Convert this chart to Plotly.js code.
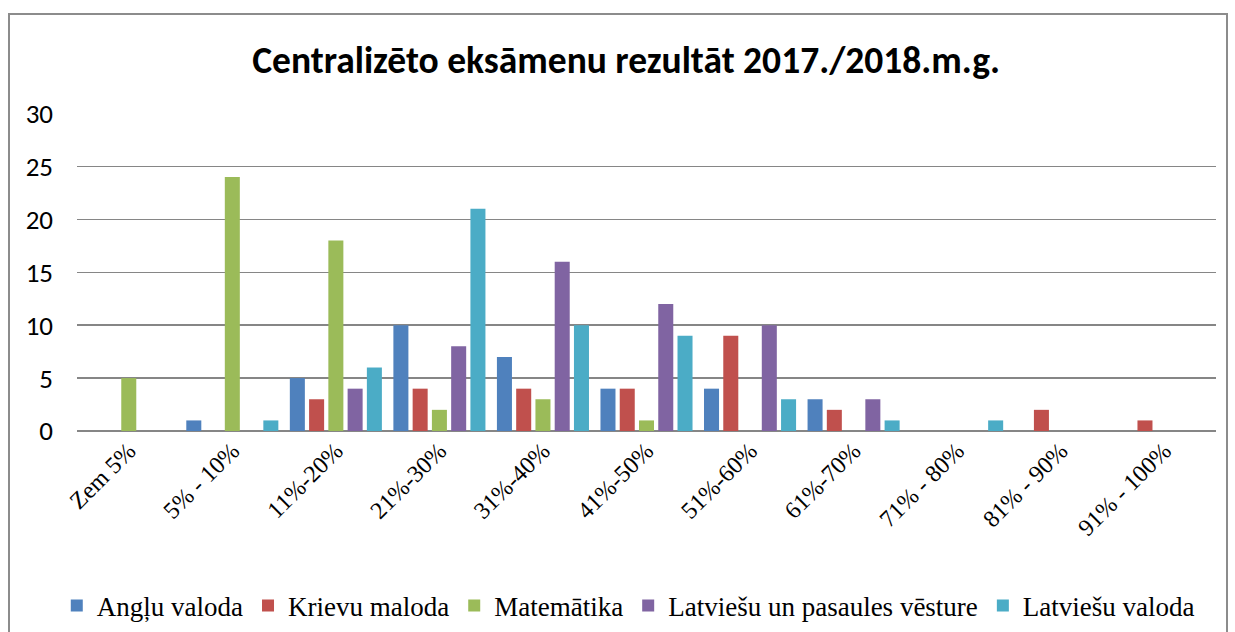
<!DOCTYPE html>
<html><head><meta charset="utf-8">
<script src="https://cdn.plot.ly/plotly-3.0.1.min.js"></script>
<style>
html,body{margin:0;padding:0;background:#fff;}
#frame{position:absolute;left:8px;top:13px;width:1220px;height:640px;border:2px solid #8c8c8c;box-sizing:border-box;pointer-events:none;z-index:10;}
#chart{width:1235px;height:632px;}
</style></head>
<body>
<div id="frame"></div>
<div id="chart"></div>
<script>
const categories = ["Zem 5%","5% - 10%","11%-20%","21%-30%","31%-40%","41%-50%","51%-60%","61%-70%","71% - 80%","81% - 90%","91% - 100%"];
const seriesNames = ["Angļu valoda","Krievu maloda","Matemātika","Latviešu un pasaules vēsture","Latviešu valoda"];
const angluValoda   = [0,1,5,10,7,4,4,3,0,0,0];
const krievuMaloda  = [0,0,3,4,4,4,9,2,0,2,1];
const matematika    = [5,24,18,2,3,1,0,0,0,0,0];
const vesture       = [0,0,4,8,16,12,10,3,0,0,0];
const latviesuValoda= [0,1,6,21,10,9,3,1,1,0,0];
const colors = ["#4F81BD","#C0504D","#9BBB59","#8064A2","#4BACC6"];
const values = [angluValoda, krievuMaloda, matematika, vesture, latviesuValoda];

const serif = 'Liberation Serif';
const sans = 'Carlito';

const traces = values.map((v,i)=>({
  type:'bar', x:categories, y:v, name:seriesNames[i],
  marker:{color:colors[i], line:{width:0}}
}));

const layout = {
  width:1235, height:632,
  font:{family:serif, color:'#000'},
  paper_bgcolor:'#fff', plot_bgcolor:'#fff',
  margin:{l:77, r:19, t:113, b:201, autoexpand:false},
  title:{text:'Centralizēto eksāmenu rezultāt 2017./2018.m.g.', font:{family:sans, size:37.5, color:'#000', weight:'bold'}, x:0.507, xanchor:'center', y:0.905, yanchor:'middle'},
  barmode:'group', bargap:0.07, bargroupgap:0.22,
  showlegend:true,
  legend:{orientation:'h', x:0.484, xanchor:'center', y:-0.55, yanchor:'middle', font:{family:serif, size:27, color:'#000'}, itemwidth:30, traceorder:'normal'},
  xaxis:{type:'category', tickangle:-45, tickfont:{family:serif, size:24, color:'#000'}, showgrid:false, showline:false, ticks:'', zeroline:false, fixedrange:true},
  yaxis:{range:[0,30.05], tickvals:[0,5,10,15,20,25,30], tickfont:{family:sans, size:27, color:'#000'}, ticklabelstandoff:23, showgrid:true, gridcolor:'#868686', gridwidth:1.5, zeroline:true, zerolinecolor:'#868686', zerolinewidth:2, showline:false, ticks:'', automargin:false, fixedrange:true}
};
Plotly.newPlot('chart', traces, layout, {displayModeBar:false, staticPlot:true});
</script>
</body></html>
